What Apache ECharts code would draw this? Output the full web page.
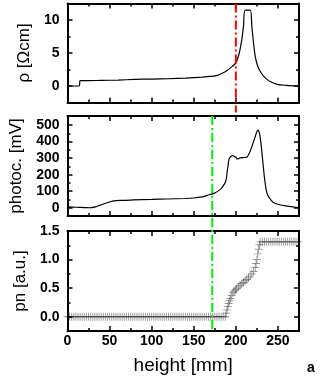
<!DOCTYPE html>
<html>
<head>
<meta charset="utf-8">
<script src="https://cdn.jsdelivr.net/npm/echarts@6/dist/echarts.min.js"></script>
<style>html,body{margin:0;padding:0;background:#fff}#c{width:323px;height:378px}</style>
</head>
<body>
<div id="c"></div>
<script>
// ---- data ----
const xMajor = [0, 50, 100, 150, 200, 250];
const xMinor = [25, 75, 125, 175, 225];

const rhoMajor = [0, 5, 10];
const rhoMinor = [2.5, 7.5];
const photoMajor = [0, 100, 200, 300, 400, 500];
const photoMinor = [50, 150, 250, 350, 450];
const pnMajor = [0, 0.5, 1.0, 1.5];
const pnMinor = [0.25, 0.75, 1.25];

const rhoX = [0, 14, 15, 20, 40, 60, 80, 100, 120, 140, 160, 170, 178, 185, 190, 195, 200, 204, 207, 209, 211, 217, 219, 221, 223, 226, 229, 233, 237, 242, 249, 260, 275];
const rhoY = [0, 0, 0.8, 0.8, 0.85, 0.9, 1.0, 1.05, 1.1, 1.2, 1.35, 1.45, 1.6, 2.0, 2.4, 2.9, 3.5, 5, 7, 9, 11.5, 11.5, 9, 6.5, 4.5, 3, 2.2, 1.5, 1.0, 0.6, 0.25, 0.1, 0];

const photoX = [0, 10, 20, 27, 33, 39, 47, 55, 65, 78, 100, 118, 140, 150, 160, 166, 174, 180, 184, 188, 190, 192, 194, 196, 198, 200, 202, 205, 210, 213, 216, 219, 223, 226, 228, 230, 232, 234, 236, 238, 242, 245, 252, 261, 268, 275];
const photoY = [5, 3, 1, 0, 5, 16, 30, 42, 45, 47, 50, 53, 56, 59, 66, 75, 87, 105, 125, 160, 230, 295, 310, 315, 312, 305, 295, 302, 304, 306, 330, 370, 430, 470, 450, 380, 280, 180, 110, 75, 45, 30, 18, 10, 5, 0];

const pnX = [0, 2.5, 5, 7.5, 10, 12.5, 15, 17.5, 20, 22.5, 25, 27.5, 30, 32.5, 35, 37.5, 40, 42.5, 45, 47.5, 50, 52.5, 55, 57.5, 60, 62.5, 65, 67.5, 70, 72.5, 75, 77.5, 80, 82.5, 85, 87.5, 90, 92.5, 95, 97.5, 100, 102.5, 105, 107.5, 110, 112.5, 115, 117.5, 120, 122.5, 125, 127.5, 130, 132.5, 135, 137.5, 140, 142.5, 145, 147.5, 150, 152.5, 155, 157.5, 160, 162.5, 165, 167.5, 170, 172.5, 175, 177.5, 180, 182.5, 185, 187.5,
  188.5, 189.5, 190.5, 191.5, 192.5, 193.5, 195, 196.5, 198, 199.5, 201, 203, 205, 207, 209, 211, 213, 215, 217, 219, 221, 223, 224, 225, 226, 227, 228,
  229, 231.5, 234, 236.5, 239, 241.5, 244, 246.5, 249, 251.5, 254, 256.5, 259, 261.5, 264, 266.5, 269, 271.5, 274];
const pnY = [0, 0, 0, 0, 0, 0, 0, 0, 0, 0, 0, 0, 0, 0, 0, 0, 0, 0, 0, 0, 0, 0, 0, 0, 0, 0, 0, 0, 0, 0, 0, 0, 0, 0, 0, 0, 0, 0, 0, 0, 0, 0, 0, 0, 0, 0, 0, 0, 0, 0, 0, 0, 0, 0, 0, 0, 0, 0, 0, 0, 0, 0, 0, 0, 0, 0, 0, 0, 0, 0, 0, 0, 0, 0, 0, 0,
  0.06, 0.12, 0.18, 0.23, 0.28, 0.32, 0.37, 0.42, 0.45, 0.47, 0.49, 0.52, 0.55, 0.58, 0.6, 0.63, 0.65, 0.68, 0.71, 0.75, 0.79, 0.86, 0.93, 1.0, 1.1, 1.18, 1.26,
  1.31, 1.31, 1.31, 1.31, 1.31, 1.31, 1.31, 1.31, 1.31, 1.31, 1.31, 1.31, 1.31, 1.31, 1.31, 1.31, 1.31, 1.31, 1.31];

const redLineX = 200;
const redLineY = [12.5, -4.0];
const greenLineX = 172;
const greenLineY = [555, -745];

// ---- layout / styles ----
const FONT = "'Liberation Sans', Arial, sans-serif";
const X_MIN = 0, X_MAX = 275;
const grids = [
  { left: 67.5, right: 24, top: 3.5, height: 99 },
  { left: 67.5, right: 24, top: 116, height: 100 },
  { left: 67.5, right: 24, top: 231, height: 100 }
];
const yRanges = [[-2.5, 12.5], [-50, 555], [-0.25, 1.5]];
const yMaj = [rhoMajor, photoMajor, pnMajor];
const yMin = [rhoMinor, photoMinor, pnMinor];
const yNames = ['ρ [Ωcm]', 'photoc. [mV]', 'pn [a.u.]'];
const yFmt = [v => String(v), v => String(v), v => v.toFixed(1)];

const xAxes = [], yAxes = [];
function axisPair(list, gi, min, max, major, minor, pos, labels, extra) {
  const base = { type: 'value', gridIndex: gi, min: min, max: max, position: pos, splitLine: { show: false }, z: 5 };
  list.push(Object.assign({}, base, {
    axisLine: { show: true, onZero: false, lineStyle: { color: '#000', width: 2 } },
    axisTick: { show: true, inside: true, length: 5, customValues: major, lineStyle: { color: '#000', width: 1.5 } },
    axisLabel: labels ? Object.assign({ show: true, customValues: major, color: '#000', fontFamily: FONT, fontWeight: 'bold', fontSize: 14 }, labels) : { show: false }
  }, extra || {}));
  const mainIdx = list.length - 1;
  list.push(Object.assign({}, base, {
    axisLine: { show: false, onZero: false },
    axisTick: { show: true, inside: true, length: 3, customValues: minor, lineStyle: { color: '#000', width: 1.5 } },
    axisLabel: { show: false }
  }));
  return mainIdx;
}

const xIdx = [], yIdx = [];
for (let g = 0; g < 3; g++) {
  const bottomLabels = g === 2 ? { margin: 3 } : null;
  const extraX = g === 2 ? { name: 'height [mm]', nameLocation: 'middle', nameGap: 25, nameTextStyle: { fontFamily: FONT, fontSize: 19, color: '#000' } } : {};
  xIdx.push(axisPair(xAxes, g, X_MIN, X_MAX, xMajor, xMinor, 'bottom', bottomLabels, extraX));
  axisPair(xAxes, g, X_MIN, X_MAX, xMajor, xMinor, 'top', null);
  const f = yFmt[g];
  yIdx.push(axisPair(yAxes, g, yRanges[g][0], yRanges[g][1], yMaj[g], yMin[g], 'left',
    { margin: 8, formatter: f },
    { name: yNames[g], nameLocation: 'middle', nameGap: 33, nameTextStyle: { fontFamily: FONT, fontSize: 17, color: '#000' } }));
  axisPair(yAxes, g, yRanges[g][0], yRanges[g][1], yMaj[g], yMin[g], 'right', null);
}

const zip = (a, b) => a.map((v, i) => [v, b[i]]);

const option = {
  animation: false,
  backgroundColor: '#fff',
  grid: grids,
  xAxis: xAxes,
  yAxis: yAxes,
  series: [
    { type: 'line', xAxisIndex: xIdx[0], yAxisIndex: yIdx[0], data: zip(rhoX, rhoY), showSymbol: false, symbol: 'none', smooth: 0.3,
      lineStyle: { color: '#000', width: 1.2 }, z: 3 },
    { type: 'line', xAxisIndex: xIdx[1], yAxisIndex: yIdx[1], data: zip(photoX, photoY), showSymbol: false, symbol: 'none', smooth: 0.3,
      lineStyle: { color: '#000', width: 1.2 }, z: 3 },
    { type: 'scatter', xAxisIndex: xIdx[2], yAxisIndex: yIdx[2], data: zip(pnX, pnY),
      symbol: 'path://M0,4.4L10,4.4L10,5.6L0,5.6Z M4.4,0L5.6,0L5.6,10L4.4,10Z', symbolSize: 8,
      itemStyle: { color: 'rgba(30,30,30,0.55)' }, z: 3 },
    { type: 'line', xAxisIndex: xIdx[0], yAxisIndex: yIdx[0], clip: false, symbol: 'none',
      data: redLineY.map(y => [redLineX, y]), lineStyle: { color: '#ff0000', width: 2, type: [9, 3, 2, 3] }, z: 10 },
    { type: 'line', xAxisIndex: xIdx[1], yAxisIndex: yIdx[1], clip: false, symbol: 'none',
      data: greenLineY.map(y => [greenLineX, y]), lineStyle: { color: '#00ee00', width: 2, type: [9, 3, 2, 3] }, z: 10 }
  ],
  graphic: [
    { type: 'text', left: 307, top: 361, style: { text: 'a', fontFamily: FONT, fontWeight: 'bold', fontSize: 14, fill: '#000' } }
  ]
};
const chart = echarts.init(document.getElementById('c'), null, { renderer: 'canvas' });
chart.setOption(option);
</script>
</body>
</html>
